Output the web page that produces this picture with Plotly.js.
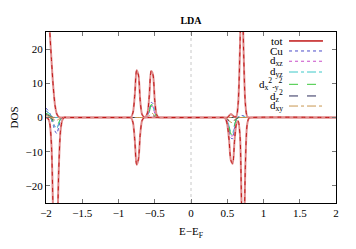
<!DOCTYPE html>
<html><head><meta charset="utf-8">
<script src="https://cdn.plot.ly/plotly-3.0.1.min.js"></script>
<style>html,body{margin:0;padding:0;background:#fff}#plot{width:356px;height:249px}</style>
</head><body><div id="plot"></div>
<script>
// Energy grid (E - E_F, eV)
const E = [-2.0,-1.975,-1.95,-1.925,-1.9,-1.875,-1.85,-1.825,-1.8,-1.775,-1.75,-1.7,
  -0.9,-0.85,-0.825,-0.8,-0.775,-0.75,-0.725,-0.7,-0.675,-0.65,-0.625,-0.6,-0.575,-0.55,-0.525,-0.5,-0.475,-0.45,-0.4,
  0.4,0.45,0.475,0.5,0.525,0.55,0.575,0.6,0.625,0.65,0.675,0.7,0.725,0.75,0.775,0.8,0.85,2.0];

// spin up (positive) and spin down (negative)
const totUp = [48,38,26,17,9,3.5,1,0.2,0,0,0,0,
  0,0,0.15,1.5,6.7,13.8,12.4,4.8,0.9,0.2,0.3,1.4,6.4,13.6,12.6,5,0.9,0.1,0,
  0,0,0,0,0.5,1,0.6,0.2,0.3,4,20,45,20,4,0.3,0,0,0];
const totDn = [0,-0.2,-1.5,-8,-30,-49,-40,-16,-4,-0.8,0,0,
  0,0,-0.15,-1.5,-6.7,-13.8,-12.2,-4.8,-0.9,-0.1,0,0,0,0,0,0,0,0,0,
  0,0,-0.3,-2,-6.5,-12.5,-13.5,-7,-2,-1,-5,-28,-42,-14,-2,-0.2,0,0];

const cuUp = [2.7,2.2,1.3,0.5,0.1,0,0,0,0,0,0,0,
  0,0,0,0,0,0,0,0,0,0,0,0.47,2.2,4.4,4.1,1.7,0.3,0,0,
  0,0,0,0,0,0,0,0,0,0.1,0.4,0.6,0.5,0.2,0,0,0,0];
const cuDn = [0,0,0,-0.8,-2.3,-4.0,-4.7,-2.8,-0.8,-0.1,0,0,
  0,0,0,0,0,0,0,0,0,0,0,0,0,0,0,0,0,0,0,
  0,0,-0.2,-1.2,-3.5,-6.0,-6.2,-3.0,-0.8,-0.1,0,0,0,0,0,0,0,0];

const dxzUp = [1.8,1.5,0.9,0.3,0.05,0,0,0,0,0,0,0,
  0,0,0,0,0,0,0,0,0,0,0,0.35,1.6,3.3,3.0,1.26,0.23,0,0,
  0,0,0,0,0,0,0,0,0,0,0,0,0,0,0,0,0,0];
const dxzDn = [0,0,0,-0.4,-1.5,-2.6,-3.0,-1.8,-0.5,-0.1,0,0,
  0,0,0,0,0,0,0,0,0,0,0,0,0,0,0,0,0,0,0,
  0,0,-0.15,-1.0,-3.1,-5.3,-5.4,-2.6,-0.7,-0.1,0,0,0,0,0,0,0,0];

const dyzUp = [2.0,1.6,1.0,0.35,0.05,0,0,0,0,0,0,0,
  0,0,0,0,0,0,0,0,0,0,0,0.38,1.75,3.6,3.3,1.37,0.25,0,0,
  0,0,0,0,0,0,0,0,0,0.05,0.2,0.3,0.25,0.1,0,0,0,0];
const dyzDn = [0,0,0,-0.4,-1.6,-2.8,-3.2,-1.9,-0.5,-0.1,0,0,
  0,0,0,0,0,0,0,0,0,0,0,0,0,0,0,0,0,0,0,
  0,0,-0.1,-0.8,-2.5,-4.3,-4.4,-2.1,-0.6,-0.1,0,0,0,0,0,0,0,0];

const dx2y2Up = [1.2,1.0,0.6,0.2,0,0,0,0,0,0,0,0,
  0,0,0,0,0,0,0,0,0,0,0,0.4,1.84,3.76,3.5,1.44,0.27,0,0,
  0,0,0,0,0,0,0,0,0,0,0,0,0,0,0,0,0,0];
const dx2y2Dn = [0,0,0,-0.3,-1.2,-2.1,-2.5,-1.5,-0.4,-0.1,0,0,
  0,0,0,0,0,0,0,0,0,0,0,0,0,0,0,0,0,0,0,
  0,0,-0.15,-0.9,-2.8,-4.8,-4.9,-2.4,-0.6,-0.1,0,0,0,0,0,0,0,0];

const dz2Up = [0.8,0.7,0.4,0.15,0,0,0,0,0,0,0,0,
  0,0,0,0,0,0,0,0,0,0,0,0.06,0.28,0.56,0.52,0.22,0.04,0,0,
  0,0,0,0,0,0,0,0,0,0,0,0,0,0,0,0,0,0];
const dz2Dn = [0,0,0,-0.2,-0.7,-1.2,-1.5,-0.9,-0.25,0,0,0,
  0,0,0,0,0,0,0,0,0,0,0,0,0,0,0,0,0,0,0,
  0,0,-0.05,-0.4,-1.1,-1.9,-2.0,-1.0,-0.25,0,0,0,0,0,0,0,0,0];

const dxyUp = [0.5,0.4,0.25,0.1,0,0,0,0,0,0,0,0,
  0,0,0,0,0,0,0,0,0,0,0,0.13,0.6,1.22,1.13,0.47,0.09,0,0,
  0,0,0,0,0,0,0,0,0,0,0,0,0,0,0,0,0,0];
const dxyDn = [0,0,0,-0.1,-0.4,-0.7,-0.8,-0.5,-0.15,0,0,0,
  0,0,0,0,0,0,0,0,0,0,0,0,0,0,0,0,0,0,0,
  0,0,-0.05,-0.3,-0.9,-1.4,-1.5,-0.7,-0.2,0,0,0,0,0,0,0,0,0];

const names = ['tot','Cu','d<sub>xz</sub>','d<sub>yz</sub>','d<sub>x</sub><sup>2</sup><sub>-y</sub><sup>2</sup>','d<sub>z</sub><sup>2</sup>','d<sub>xy</sub>'];
const upSeries = [totUp, cuUp, dxzUp, dyzUp, dx2y2Up, dz2Up, dxyUp];
const dnSeries = [totDn, cuDn, dxzDn, dyzDn, dx2y2Dn, dz2Dn, dxyDn];
const colors = ['#cc1f1f','#4b4bc8','#c84bc8','#3cc8c8','#3cc83c','#2c2c5a','#c89650'];
const dashes = ['solid','dot','dot','dashdot','dash','dash','dashdot'];

const FONT = 'Liberation Serif';
const traces = [];
for (let i = 1; i < names.length; i++) {
  [upSeries[i], dnSeries[i]].forEach(ys => {
    traces.push({x:E, y:ys, mode:'lines', line:{color:colors[i], width:1, dash:dashes[i], shape:'spline', smoothing:0.8}, showlegend:false, hoverinfo:'skip'});
  });
}
[upSeries[0], dnSeries[0]].forEach(ys => {
  traces.push({x:E, y:ys, mode:'lines', line:{color:'#e08a8a', width:2, shape:'spline', smoothing:0.8}, showlegend:false, hoverinfo:'skip'});
  traces.push({x:E, y:ys, mode:'lines', line:{color:'#c01818', width:1, dash:'4px,4px', shape:'spline', smoothing:0.8}, showlegend:false, hoverinfo:'skip'});
});

// hand-built gnuplot-style legend (text right-aligned, sample to the right)
const annotations = [];
const shapes = [{type:'line', xref:'x', yref:'paper', x0:0, x1:0, y0:0, y1:1, line:{color:'#c8c8c8', width:1, dash:'dot'}, layer:'below'}];
const legY = [0.948, 0.889, 0.829, 0.766, 0.694, 0.626, 0.567];
for (let i = 0; i < names.length; i++) {
  annotations.push({xref:'paper', yref:'paper', x:0.82, y:legY[i], xanchor:'right', yanchor:'middle', text:names[i], showarrow:false, font:{family:FONT, size:11, color:'#000'}, borderpad:0});
  if (i === 0) {
    shapes.push({type:'line', xref:'paper', yref:'paper', x0:0.838, x1:0.955, y0:legY[i], y1:legY[i], line:{color:'#e08a8a', width:2}});
    shapes.push({type:'line', xref:'paper', yref:'paper', x0:0.838, x1:0.955, y0:legY[i], y1:legY[i], line:{color:'#c01818', width:1}});
  } else {
    shapes.push({type:'line', xref:'paper', yref:'paper', x0:0.838, x1:0.955, y0:legY[i], y1:legY[i], line:{color:colors[i], width:1, dash:dashes[i]}});
  }
}

const layout = {
  width:356, height:249,
  margin:{l:46, r:20, t:32, b:46},
  paper_bgcolor:'#fff', plot_bgcolor:'#fff',
  font:{family:FONT, size:11, color:'#000'},
  title:{text:'<b>LDA</b>', x:0.5, xref:'paper', y:0.93, yref:'container', font:{family:FONT, size:10}},
  xaxis:{range:[-2,2], tickvals:[-2,-1.5,-1,-0.5,0,0.5,1,1.5,2], ticktext:['−2','−1.5','−1','−0.5','0','0.5','1','1.5','2'],
    ticks:'inside', ticklen:4, tickcolor:'#777', mirror:'ticks', showline:true, linecolor:'#000', linewidth:1,
    showgrid:false, zeroline:false, tickfont:{family:FONT, size:11},
    title:{text:'E−E<sub>F</sub>', font:{family:FONT, size:11}, standoff:9}},
  yaxis:{range:[-25,25], tickvals:[-20,-10,0,10,20],
    ticks:'inside', ticklen:4, tickcolor:'#777', mirror:'ticks', showline:true, linecolor:'#000', linewidth:1,
    showgrid:false, zeroline:false, tickfont:{family:FONT, size:11},
    title:{text:'DOS', font:{family:FONT, size:11}, standoff:4}},
  showlegend:false,
  annotations:annotations,
  shapes:shapes
};
Plotly.newPlot('plot', traces, layout, {staticPlot:true, displayModeBar:false});
</script></body></html>
